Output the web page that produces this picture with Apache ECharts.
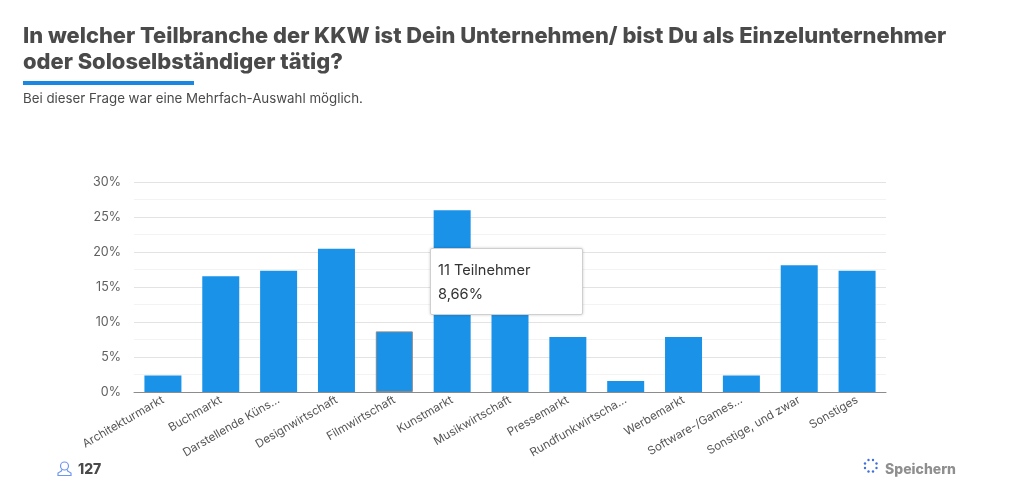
<!DOCTYPE html>
<html><head><meta charset="utf-8">
<style>html,body{margin:0;padding:0;background:#fff}#c{width:1024px;height:493px}</style>
<script src="https://cdn.jsdelivr.net/npm/echarts@6/dist/echarts.min.js"></script>
</head><body><div id="c"></div>
<script>
const categories = ["Architekturmarkt","Buchmarkt","Darstellende Küns…","Designwirtschaft","Filmwirtschaft","Kunstmarkt","Musikwirtschaft","Pressemarkt","Rundfunkwirtscha…","Werbemarkt","Software-/Games…","Sonstige, und zwar","Sonstiges"];
const values = [2.36,16.54,17.32,20.47,8.66,25.98,14.17,7.87,1.57,7.87,2.36,18.11,17.32];
const tickLabels = ["0%","5%","10%","15%","20%","25%","30%"];
const titleLine1 = "In welcher Teilbranche der KKW ist Dein Unternehmen/ bist Du als Einzelunternehmer";
const titleLine2 = "oder Soloselbständiger tätig?";
const subtitle = "Bei dieser Frage war eine Mehrfach-Auswahl möglich.";
const hoverIndex = 4;
const FONT = "Inter, 'Open Sans', sans-serif";
const chart = echarts.init(document.getElementById('c'), null, {renderer:'canvas'});
const ring = [[868.5,460],[873,460],[876.5,463.5],[876.5,468],[873,471.5],[868.5,471.5],[865,468],[865,463.5]];
const titleBase = {fontFamily:FONT,fontSize:21.9,fontWeight:800,color:'#4a4a4a'};
chart.setOption({
  animation:false,
  backgroundColor:'#fff',
  title:[
    {text:titleLine1,left:23,top:25,padding:0,textStyle:titleBase},
    {text:titleLine2,left:23,top:51,padding:0,textStyle:titleBase},
    {text:subtitle,left:23,top:92,padding:0,textStyle:{fontFamily:FONT,fontSize:13.3,fontWeight:400,color:'#4a4a4a'}},
    {text:"127",left:78,top:463,padding:0,textStyle:{fontFamily:FONT,fontSize:14,fontWeight:800,color:'#4a4a4a'}},
    {text:"Speichern",left:885,top:463,padding:0,textStyle:{fontFamily:FONT,fontSize:14,fontWeight:800,color:'#8f8f8f'}}
  ],
  grid:{left:134,right:138,top:182,bottom:101,containLabel:false},
  tooltip:{trigger:'item',alwaysShowContent:true,showDelay:0,transitionDuration:0,
    position:[430,248],padding:0,borderWidth:1,borderColor:'#cfcfcf',backgroundColor:'#fff',
    extraCssText:'box-shadow:0 0 3px rgba(0,0,0,.2);border-radius:2px;',
    formatter:function(){return '<div style="width:151px;height:65px;box-sizing:border-box;font-family:Inter,sans-serif;font-size:14.6px;color:#333;line-height:24px;"><div style="padding:9px 0 0 7px">11 Teilnehmer<br>8,66%</div></div>';}
  },
  xAxis:{type:'category',data:categories,
    axisLine:{lineStyle:{color:'#8c8c8c',width:1}},axisTick:{show:false},
    axisLabel:{rotate:30,interval:0,margin:7,fontFamily:FONT,fontSize:11.6,color:'#555'}},
  yAxis:{type:'value',min:0,max:30,interval:5,
    axisLine:{show:false},axisTick:{show:false},
    axisLabel:{margin:13,fontFamily:FONT,fontSize:12.5,color:'#5f5f5f',padding:[5,0,0,0],formatter:function(v){return tickLabels[v/5];}},
    splitLine:{lineStyle:{color:'#e3e3e3',width:1}},
    minorTick:{show:false,splitNumber:2},
    minorSplitLine:{show:true,lineStyle:{color:'#f3f3f3',width:1}}},
  series:[{type:'bar',data:values.map(function(v,i){return i===hoverIndex?{value:v,itemStyle:{borderColor:'#888',borderWidth:1}}:v;}),barWidth:37,
    itemStyle:{color:'#1a92e8'},emphasis:{disabled:true}}],
  graphic:[
    {type:'rect',shape:{x:23,y:81,width:171,height:4},style:{fill:'#1a88e0'}},
    {type:'circle',shape:{cx:64.5,cy:466,r:4},style:{fill:'none',stroke:'#6f96ef',lineWidth:1.2}},
    {type:'polyline',shape:{points:[[61.5,469.5],[61.5,471],[58,473],[58,475.5],[71,475.5],[71,473],[67.5,471],[67.5,469.5]]},style:{fill:'none',stroke:'#6f96ef',lineWidth:1.2}}
  ].concat(ring.map(function(p){return {type:'circle',shape:{cx:p[0],cy:p[1],r:1.2},style:{fill:'#3f6fe0'}};}))
});
chart.dispatchAction({type:'showTip',seriesIndex:0,dataIndex:hoverIndex});
</script></body></html>
